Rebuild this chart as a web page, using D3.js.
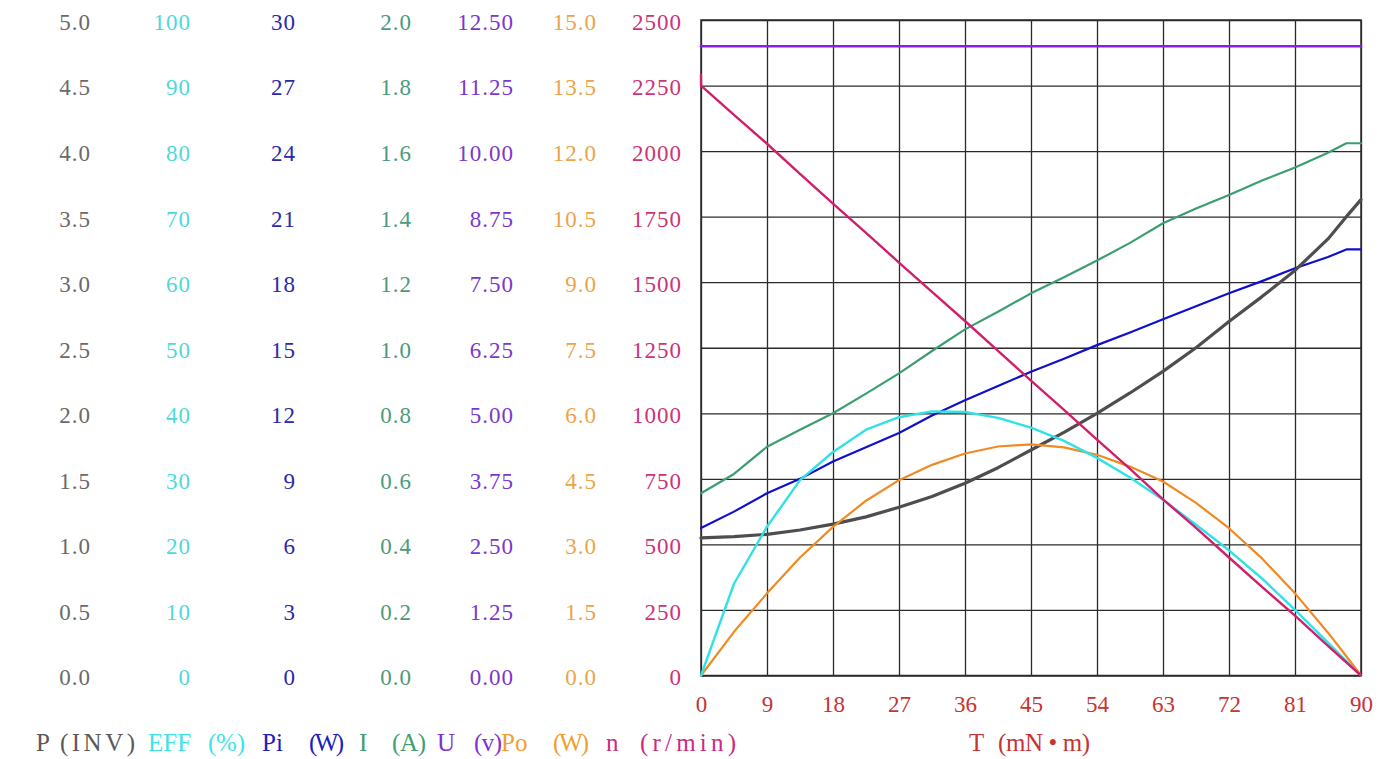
<!DOCTYPE html>
<html>
<head>
<meta charset="utf-8">
<script src="https://cdn.jsdelivr.net/npm/d3@7"></script>
<style>
  html, body { margin: 0; padding: 0; background: #fff; }
  svg { display: block; }
  text { font-family: "Liberation Serif", "DejaVu Serif", serif; }
</style>
</head>
<body>
<script>
// ---------------- DATA ----------------
const torque = [0, 4.5, 9, 13.5, 18, 22.5, 27, 31.5, 36, 40.5, 45, 49.5, 54, 58.5, 63, 67.5, 72, 76.5, 81, 85.5, 88, 90];
const powerInv = [1.05, 1.06, 1.077, 1.11, 1.155, 1.21, 1.283, 1.365, 1.466, 1.585, 1.72, 1.855, 2.0, 2.155, 2.32, 2.50, 2.70, 2.89, 3.09, 3.33, 3.50, 3.63];
const efficiency = [0, 14, 22.7, 29.8, 34.1, 37.5, 39.4, 40.3, 40.2, 39.3, 37.8, 35.8, 33.2, 30.2, 26.8, 23.0, 19.1, 14.8, 10.0, 5.0, 2.2, 0];
const powerIn = [6.75, 7.5, 8.34, 9.0, 9.79, 10.45, 11.1, 11.9, 12.6, 13.25, 13.9, 14.5, 15.12, 15.7, 16.3, 16.9, 17.49, 18.05, 18.64, 19.15, 19.5, 19.5];
const current = [0.556, 0.615, 0.698, 0.75, 0.80, 0.86, 0.922, 0.99, 1.056, 1.11, 1.166, 1.215, 1.266, 1.32, 1.38, 1.425, 1.466, 1.51, 1.55, 1.595, 1.624, 1.624];
const voltage = [12, 12, 12, 12, 12, 12, 12, 12, 12, 12, 12, 12, 12, 12, 12, 12, 12, 12, 12, 12, 12, 12];
const powerOut = [0, 1.0, 1.88, 2.70, 3.40, 4.0, 4.47, 4.82, 5.08, 5.24, 5.29, 5.22, 5.05, 4.78, 4.44, 3.95, 3.37, 2.68, 1.88, 0.98, 0.44, 0];
const speedTorque = [0, 0, 4.5, 9, 13.5, 18, 22.5, 27, 31.5, 36, 40.5, 45, 49.5, 54, 58.5, 63, 67.5, 72, 76.5, 81, 85.5, 90];
const speed = [2290, 2250, 2138, 2028, 1913, 1800, 1688, 1575, 1463, 1352, 1238, 1125, 1013, 900, 788, 672, 563, 450, 338, 228, 113, 0];

const xTicks = [0, 9, 18, 27, 36, 45, 54, 63, 72, 81, 90];
const pTicks = [0, 0.5, 1, 1.5, 2, 2.5, 3, 3.5, 4, 4.5, 5];
const effTicks = [0, 10, 20, 30, 40, 50, 60, 70, 80, 90, 100];
const piTicks = [0, 3, 6, 9, 12, 15, 18, 21, 24, 27, 30];
const iTicks = [0, 0.2, 0.4, 0.6, 0.8, 1.0, 1.2, 1.4, 1.6, 1.8, 2.0];
const uTicks = [0, 1.25, 2.5, 3.75, 5, 6.25, 7.5, 8.75, 10, 11.25, 12.5];
const poTicks = [0, 1.5, 3, 4.5, 6, 7.5, 9, 10.5, 12, 13.5, 15];
const nTicks = [0, 250, 500, 750, 1000, 1250, 1500, 1750, 2000, 2250, 2500];

const legendNames = ["P", "EFF", "Pi", "I", "U", "Po", "n"];
const legendUnits = ["(INV)", "(%)", "(W)", "(A)", "(v)", "(W)", "(r/min)"];
const xTitleName = "T";
const xTitleUnit = "(mN \u2022 m)";

// ---------------- LAYOUT ----------------
const W = 1387, H = 759;
const L = 701, R = 1361, T = 20, B = 675.5;

const svg = d3.select("body").append("svg").attr("width", W).attr("height", H);

const x = d3.scaleLinear().domain([0, 90]).range([L, R]);
const mk = d => d3.scaleLinear().domain(d).range([B, T]);
const yP = mk([0, 5]), yEff = mk([0, 100]), yPi = mk([0, 30]), yI = mk([0, 2]),
      yU = mk([0, 12.5]), yPo = mk([0, 15]), yN = mk([0, 2500]);

// grid
const gridColor = "#2b2b2b";
const gx = svg.append("g").attr("transform", `translate(0,${B})`)
  .call(d3.axisBottom(x).tickValues(xTicks).tickSize(-(B - T)).tickFormat(""));
const gy = svg.append("g").attr("transform", `translate(${L},0)`)
  .call(d3.axisLeft(yN).tickValues(nTicks).tickSize(-(R - L)).tickFormat(""));
[gx, gy].forEach(g => {
  g.select(".domain").remove();
  g.selectAll("line").attr("stroke", gridColor).attr("stroke-width", 1.3);
});
svg.append("rect").attr("x", L).attr("y", T).attr("width", R - L).attr("height", B - T)
  .attr("fill", "none").attr("stroke", gridColor).attr("stroke-width", 1.5);

// left axes
const axes = [
  { s: yP, ticks: pTicks, fmt: d3.format(".1f"), end: 91, color: "#6a6a6a" },
  { s: yEff, ticks: effTicks, fmt: d3.format("d"), end: 191, color: "#4ed8dc" },
  { s: yPi, ticks: piTicks, fmt: d3.format("d"), end: 296, color: "#2a2aa8" },
  { s: yI, ticks: iTicks, fmt: d3.format(".1f"), end: 412, color: "#4c9a7c" },
  { s: yU, ticks: uTicks, fmt: d3.format(".2f"), end: 514, color: "#7a38cc" },
  { s: yPo, ticks: poTicks, fmt: d3.format(".1f"), end: 597, color: "#eba448" },
  { s: yN, ticks: nTicks, fmt: d3.format("d"), end: 682, color: "#cc3378" }
];
axes.forEach(a => {
  const g = svg.append("g").attr("transform", `translate(${a.end},0)`)
    .call(d3.axisLeft(a.s).tickValues(a.ticks).tickFormat(a.fmt).tickSize(0).tickPadding(0));
  g.select(".domain").remove();
  g.selectAll("text").attr("fill", a.color).attr("font-size", 23)
    .attr("font-family", "Liberation Serif").attr("letter-spacing", 1)
    .attr("transform", "translate(0,2)");
});

// x axis labels
const xa = svg.append("g").attr("transform", `translate(0,${B})`)
  .call(d3.axisBottom(x).tickValues(xTicks).tickFormat(d3.format("d")).tickSize(0).tickPadding(29));
xa.select(".domain").remove();
xa.selectAll("text").attr("fill", "#c83232").attr("font-size", 23)
  .attr("font-family", "Liberation Serif").attr("dy", "0.32em");

const red = "#c83232";
svg.append("text").attr("x", 969).attr("y", 751).attr("fill", red)
  .attr("font-size", 25).text(xTitleName);
svg.append("text").attr("x", 998).attr("y", 751).attr("fill", red)
  .attr("font-size", 25).attr("textLength", 92).attr("lengthAdjust", "spacing").text(xTitleUnit);

// legend: [name x, unit x, unit width, colour]
const legendPos = [
  [36, 60, 75, "#5a5a5a"],
  [148, 208, 37, "#3ee4e4"],
  [262, 309, 35, "#2020c0"],
  [359, 392, 34, "#40a070"],
  [437, 474, 28, "#8030d4"],
  [501, 553, 36, "#f0a030"],
  [606, 640, 96, "#cc2a80"]
];
legendNames.forEach((t, i) => {
  const p = legendPos[i];
  svg.append("text").attr("x", p[0]).attr("y", 751).attr("fill", p[3])
    .attr("font-size", 25).text(t);
  svg.append("text").attr("x", p[1]).attr("y", 751).attr("fill", p[3])
    .attr("font-size", 25).attr("textLength", p[2]).attr("lengthAdjust", "spacing")
    .text(legendUnits[i]);
});

// curves
const series = [
  { t: torque, v: voltage, s: yU, c: "#8b1ee6", w: 2.6 },
  { t: torque, v: current, s: yI, c: "#3c9e70", w: 2.2 },
  { t: torque, v: powerIn, s: yPi, c: "#1010cc", w: 2.2 },
  { t: torque, v: powerInv, s: yP, c: "#4e4e4e", w: 3.2 },
  { t: torque, v: powerOut, s: yPo, c: "#f08a22", w: 2.2 },
  { t: torque, v: efficiency, s: yEff, c: "#30e2e8", w: 2.4 },
  { t: speedTorque, v: speed, s: yN, c: "#d0206c", w: 2.4 }
];
const curves = svg.append("g");
series.forEach(se => {
  const pts = se.t.map((tt, i) => [tt, se.v[i]]);
  curves.append("path").datum(pts)
    .attr("d", d3.line().x(d => x(d[0])).y(d => se.s(d[1])).curve(d3.curveLinear))
    .attr("fill", "none").attr("stroke", se.c).attr("stroke-width", se.w)
    .attr("stroke-linejoin", "round").attr("stroke-linecap", "round");
});
</script>
</body>
</html>
